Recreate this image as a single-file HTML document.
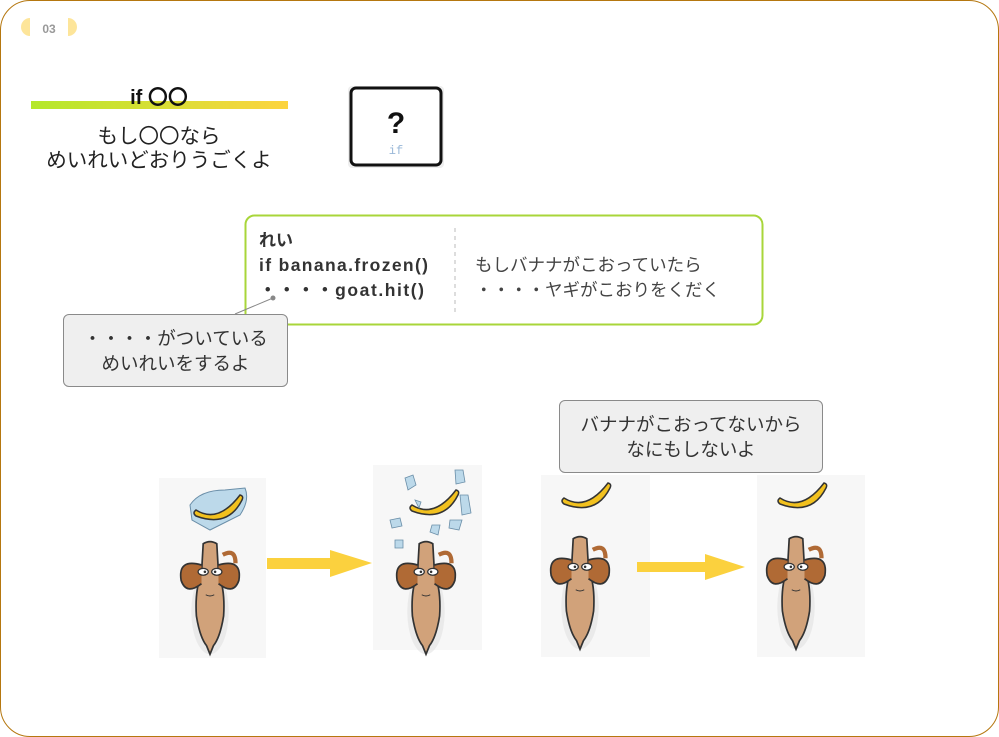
<!DOCTYPE html>
<html><head><meta charset="utf-8"><style>
body{margin:0;width:999px;height:737px;background:#fff;font-family:"Liberation Sans","Noto Sans CJK JP",sans-serif;position:relative;overflow:hidden}
.frame{position:absolute;left:0;top:0;width:997px;height:735px;border:1px solid #b5770f;border-radius:30px}
.abs{position:absolute}
.callout{position:absolute;background:#efefef;border:1px solid #8a8a8a;border-radius:6px;text-align:center;font-size:18.5px;color:#333;line-height:25px;box-sizing:border-box}
</style></head><body>
<div class="frame"></div>
<svg class="abs" style="left:0;top:0" width="999" height="737">
<defs>
<linearGradient id="g" x1="0" x2="1"><stop offset="0" stop-color="#b4e82a"/><stop offset="1" stop-color="#fdd43f"/></linearGradient>
<g id="goat" transform="scale(0.85)">
<ellipse cx="0" cy="55" rx="22" ry="50" fill="#ddd" opacity=".5"/>
<path d="M-8,-25 Q0,-30 8,-25 L10,10 Q18,30 16,60 Q12,85 4,95 L0,105 L-4,95 Q-12,85 -16,60 Q-18,30 -10,10 Z" fill="#d1a27a" stroke="#333" stroke-width="2"/>
<path d="M-10,0 Q-38,-8 -34,18 Q-28,36 -10,22" fill="#b06a35" stroke="#333" stroke-width="2"/>
<path d="M10,0 Q38,-8 34,18 Q28,36 10,22" fill="#b06a35" stroke="#333" stroke-width="2"/>
<path d="M15,-12 Q30,-20 30,-2" fill="none" stroke="#b06a35" stroke-width="5"/>
<ellipse cx="-8" cy="8" rx="6" ry="4" fill="#fff" stroke="#333" stroke-width="1.5"/>
<ellipse cx="8" cy="8" rx="6" ry="4" fill="#fff" stroke="#333" stroke-width="1.5"/>
<circle cx="-6" cy="8" r="1.5" fill="#333"/><circle cx="6" cy="8" r="1.5" fill="#333"/>
<path d="M-5,35 Q0,38 5,35" fill="none" stroke="#333" stroke-width="1.2"/>
</g>
<g id="banana"><path d="M-22,0 Q0,14 22,-15 Q26,-14 24,-10 Q10,18 -22,6 Q-26,3 -22,0Z" fill="#f2c11e" stroke="#333" stroke-width="1.5"/></g>
</defs>
<path d="M30,18 A9,9 0 0 0 30,36 Z" fill="#fde59a"/><path d="M68,18 A9,9 0 0 1 68,36 Z" fill="#fde59a"/>
<text x="49" y="33" font-size="12" font-weight="bold" fill="#999" text-anchor="middle">03</text>
<rect x="31" y="101" width="257" height="8" fill="url(#g)"/>
<text x="159" y="104" font-size="20" font-weight="bold" text-anchor="middle" fill="#111">if 〇〇</text>
<text x="159" y="143" font-size="20.5" text-anchor="middle" fill="#222">もし〇〇なら</text>
<text x="159" y="167" font-size="20.5" text-anchor="middle" fill="#222">めいれいどおりうごくよ</text>
<rect x="348" y="86" width="96" height="82" rx="4" fill="#eee"/>
<rect x="351" y="88" width="90" height="77" rx="5" fill="#fff" stroke="#111" stroke-width="3"/>
<text x="396" y="133" font-size="30" font-weight="bold" text-anchor="middle" fill="#111">?</text>
<text x="396" y="154" font-size="12" font-family="Liberation Mono" text-anchor="middle" fill="#9ab8d8">if</text>
<rect x="245.5" y="215.5" width="517" height="109" rx="9" fill="#fff" stroke="#a8d63a" stroke-width="2"/>
<line x1="455" y1="228" x2="455" y2="312" stroke="#bbb" stroke-dasharray="4,4"/>
<text x="259" y="246" font-size="17" font-weight="bold" fill="#333">れい</text>
<text x="259" y="271" font-size="17.5" font-weight="bold" fill="#333" textLength="169">if banana.frozen()</text>
<text x="259" y="296" font-size="17.5" font-weight="bold" fill="#333" textLength="165">・・・・goat.hit()</text>
<text x="475" y="271" font-size="17.5" fill="#444">もしバナナがこおっていたら</text>
<text x="475" y="296" font-size="17.5" fill="#444">・・・・ヤギがこおりをくだく</text>
<line x1="273" y1="298" x2="235" y2="314" stroke="#888" stroke-width="1"/>
<circle cx="273" cy="298" r="2.5" fill="#888"/>
<rect x="159" y="478" width="107" height="180" fill="#f7f7f7"/>
<rect x="373" y="465" width="109" height="185" fill="#f7f7f7"/>
<rect x="541" y="475" width="109" height="182" fill="#f7f7f7"/>
<rect x="757" y="475" width="108" height="182" fill="#f7f7f7"/>
<use href="#goat" x="210" y="565"/>
<use href="#goat" x="426" y="565"/>
<use href="#goat" x="580" y="560"/>
<use href="#goat" x="796" y="560"/>
<path d="M190,505 Q200,490 225,490 L245,488 Q250,500 240,515 L210,530 L192,520Z" fill="#bcd9ea" stroke="#6a8ea8" stroke-width="1"/>
<use href="#banana" x="218" y="510"/>
<use href="#banana" x="434" y="505"/>
<g fill="#bcd9ea" stroke="#6a8ea8" stroke-width=".8">
<path d="M405,478 l8,-3 l3,10 l-8,5z"/><path d="M455,470 l8,0 l2,12 l-9,2z"/><path d="M460,495 l8,0 l3,18 l-9,2z"/>
<path d="M390,520 l10,-2 l2,8 l-10,2z"/><path d="M395,540 l8,0 l0,8 l-8,0z"/><path d="M450,520 l12,0 l-3,10 l-10,-2z"/>
<path d="M415,500 l6,2 l-2,6z"/><path d="M432,525 l8,0 l-2,10 l-8,-3z"/></g>
<use href="#banana" x="586" y="498"/>
<use href="#banana" x="802" y="498"/>
<rect x="267" y="558" width="65" height="11" fill="#fbd13e"/>
<path d="M330,550 L372,563 L330,577Z" fill="#fbd13e"/>
<rect x="637" y="562" width="70" height="10" fill="#fbd13e"/>
<path d="M705,554 L745,567 L705,580Z" fill="#fbd13e"/>
</svg>
<div class="callout" style="left:63px;top:314px;width:225px;height:73px;padding-top:11px">・・・・がついている<br>めいれいをするよ</div>
<div class="callout" style="left:559px;top:400px;width:264px;height:73px;padding-top:11px">バナナがこおってないから<br>なにもしないよ</div>
</body></html>
